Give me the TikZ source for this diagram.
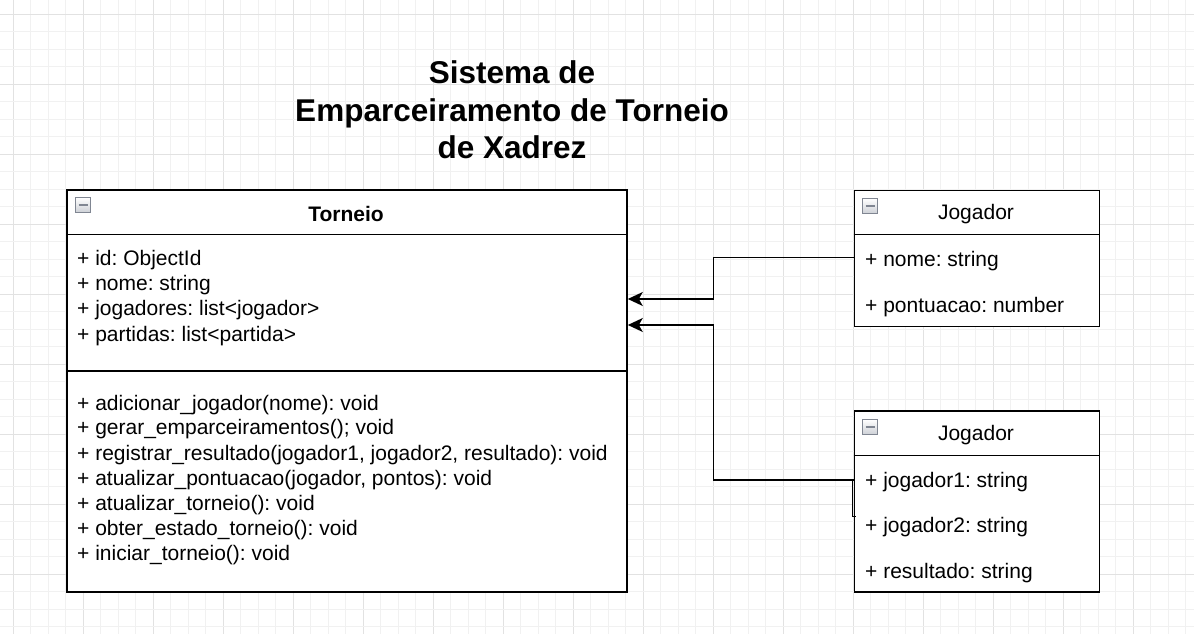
\documentclass[tikz,border=0pt]{standalone}
\usepackage{fontspec}
\setmainfont{Liberation Sans}
\frenchspacing
\usetikzlibrary{arrows.meta,positioning}
\definecolor{gridminor}{RGB}{241,241,241}
\definecolor{gridmajor}{RGB}{226,226,226}
\definecolor{iconfill}{RGB}{205,208,214}
\definecolor{iconedge}{RGB}{128,134,146}
\tikzset{
  umlbox/.style={draw,line width=1.8pt,anchor=north west,inner sep=0pt,fill=white},
  sep/.style={line width=1.8pt},
  member/.style={anchor=west,inner sep=0pt,font=\fontsize{21}{25}\selectfont},
  classname/.style={inner sep=0pt,font=\fontsize{21}{25}\selectfont},
  ttl/.style={align=center,inner sep=0pt,font=\fontsize{31.5}{37.5}\selectfont\bfseries},
  icon/.style={draw=iconedge,line width=1pt,top color=white,bottom color=iconfill,anchor=north west,minimum width=15pt,minimum height=15pt,inner sep=0pt,
    path picture={\draw[line width=2.4pt] ([xshift=3pt]path picture bounding box.west) -- ([xshift=-3pt]path picture bounding box.east);}},
  arr/.style={-{Stealth[length=15pt,width=14pt,inset=4pt]},line width=1.5pt}
}
\begin{document}
\begin{tikzpicture}[x=1pt,y=-1pt]
\useasboundingbox (0,0) rectangle (1194,634);
% grid
\foreach \k in {0,...,67} {
  \pgfmathsetmacro{\gx}{13.3+\k*17.5}
  \pgfmathtruncatemacro{\m}{mod(\k,4)}
  \ifnum\m=0 \draw[gridmajor,line width=1pt] (\gx,0) -- (\gx,634); \else \draw[gridminor,line width=1pt] (\gx,0) -- (\gx,634); \fi
}
\foreach \k in {0,...,35} {
  \pgfmathsetmacro{\gy}{14.3+\k*17.5}
  \pgfmathtruncatemacro{\m}{mod(\k,4)}
  \ifnum\m=0 \draw[gridmajor,line width=1pt] (0,\gy) -- (1194,\gy); \else \draw[gridminor,line width=1pt] (0,\gy) -- (1194,\gy); \fi
}
% title
\node[ttl] (title) at (512,110) {Sistema de\\Emparceiramento de Torneio\\de Xadrez};
% Torneio
\node[umlbox,minimum width=560,minimum height=402] (torneio) at (66,189) {};
\draw[sep] (66,234.5) -- (626,234.5);
\draw[sep] (66,371) -- (626,371);
\node[icon] (ticon) at (75,197) {};
\node[classname,font=\fontsize{21}{25}\selectfont\bfseries] (tname) at (346,214) {Torneio};
\node[member] (a1) at (77,260) {+ id: ObjectId};
\node[member] (a2) at (77,285) {+ nome: string};
\node[member] (a3) at (77,310) {+ jogadores: list<jogador>};
\node[member] (a4) at (77,336) {+ partidas: list<partida>};
\node[member] (m1) at (77,405) {+ adicionar\_jogador(nome): void};
\node[member] (m2) at (77,429) {+ gerar\_emparceiramentos(); void};
\node[member] (m3) at (77,455) {+ registrar\_resultado(jogador1, jogador2, resultado): void};
\node[member] (m4) at (77,480) {+ atualizar\_pontuacao(jogador, pontos): void};
\node[member] (m5) at (77,505) {+ atualizar\_torneio(): void};
\node[member] (m6) at (77,530) {+ obter\_estado\_torneio(): void};
\node[member] (m7) at (77,555) {+ iniciar\_torneio(): void};
% Jogador (1)
\node[umlbox,minimum width=245,minimum height=136] (jog) at (853.5,189.5) {};
\draw[sep] (853.5,234.5) -- (1098.5,234.5);
\node[icon] (jicon) at (862,198) {};
\node[classname] (jname) at (976,214) {Jogador};
\node[member] (j1) at (865,261) {+ nome: string};
\node[member] (j2) at (865,307) {+ pontuacao: number};
% Jogador (2)
\node[umlbox,minimum width=245,minimum height=181] (part) at (853.5,410) {};
\draw[sep] (853.5,455.5) -- (1098.5,455.5);
\node[icon] (picon) at (862,419) {};
\node[classname] (pname) at (976,435) {Jogador};
\node[member] (p1) at (865,482) {+ jogador1: string};
\node[member] (p2) at (865,527) {+ jogador2: string};
\node[member] (p3) at (865,573) {+ resultado: string};
% connectors
\coordinate (jout) at (jog.west |- 0,257.5);
\coordinate (pout) at (part.west |- 0,480);
\coordinate (tin1) at (torneio.east |- 0,299);
\coordinate (tin2) at (torneio.east |- 0,325);
\draw[arr] (jout) -- (713.5,257.5) |- (tin1);
\draw[arr] (pout) -- (713.5,480) |- (tin2);
\draw[line width=1pt] (pout) ++(-1.5,0) -- ++(0,36) -- ++(4,0);
\end{tikzpicture}
\end{document}
